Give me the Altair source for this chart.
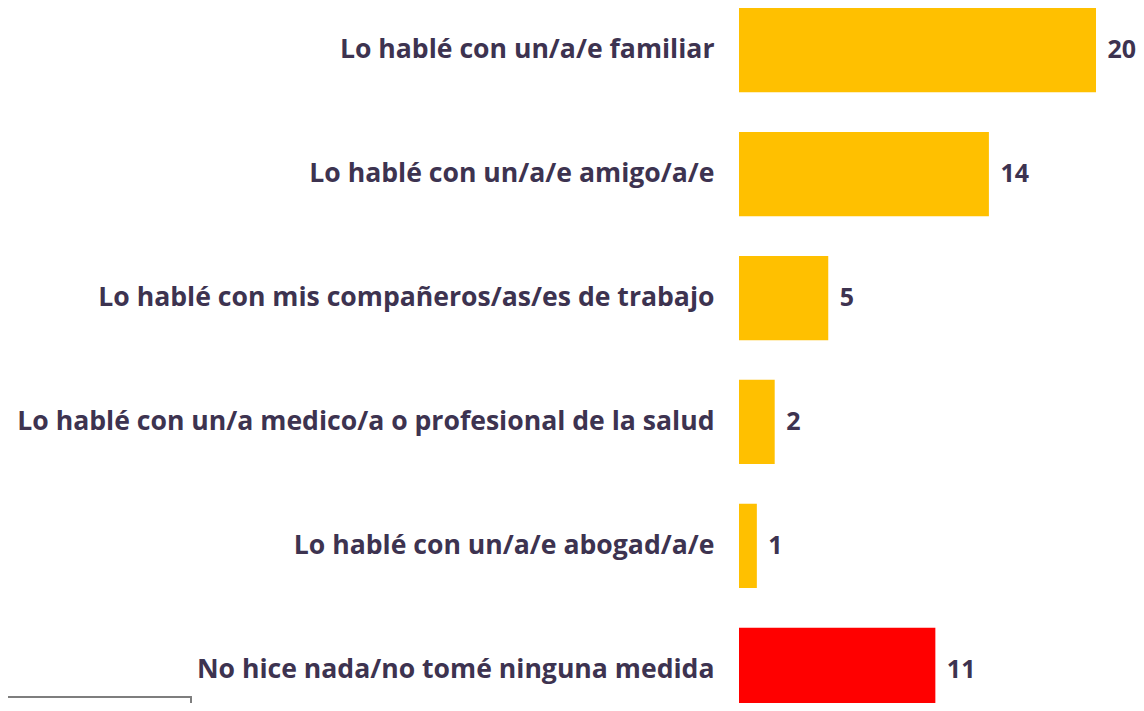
import altair as alt
import pandas as pd

categories = [
    "Lo hablé con un/a/e familiar",
    "Lo hablé con un/a/e amigo/a/e",
    "Lo hablé con mis compañeros/as/es de trabajo",
    "Lo hablé con un/a medico/a o profesional de la salud",
    "Lo hablé con un/a/e abogad/a/e",
    "No hice nada/no tomé ninguna medida",
]
values = [20, 14, 5, 2, 1, 11]
groups = ["acción", "acción", "acción", "acción", "acción", "nada"]

df = pd.DataFrame({"cat": categories, "val": values, "grp": groups})

TEXT = "#3d3350"
FONT = "Open Sans"
FS = 26.6
NFS = 25

y = alt.Y(
    "cat:N",
    sort=categories,
    title=None,
    scale=alt.Scale(paddingInner=0.32, paddingOuter=0, range=[0, 704]),
    axis=alt.Axis(
        domain=False, ticks=False, labelPadding=25, labelFontSize=FS,
        labelFontWeight="bold", labelColor=TEXT, labelFont=FONT, labelLimit=1000,
    ),
)
x = alt.X("val:Q", title=None, scale=alt.Scale(domain=[0, 22.24], nice=False), axis=None)

bars = alt.Chart(df).mark_bar().encode(
    x=x, y=y,
    color=alt.Color("grp:N", scale=alt.Scale(domain=["acción", "nada"], range=["#FFC000", "#FF0000"]), legend=None),
)
labels = alt.Chart(df).mark_text(
    align="left", baseline="middle", dx=11.5, fontSize=NFS, fontWeight="bold", color=TEXT, font=FONT
).encode(x=x, y=y, text="val:Q")

box = alt.Chart(df).mark_rect(fill=None, stroke="#7f7f7f", strokeWidth=1.3).encode(
    x=alt.value(-740), x2=alt.value(-548), y=alt.value(689), y2=alt.value(720)
)

chart = (bars + labels + box).properties(
    width=397, height=695,
    padding={"left": 731, "top": 0, "right": 0, "bottom": 0},
    autosize=alt.AutoSizeParams(type="none"),
).configure_view(stroke=None)

chart.save("out.html", embed_options={"renderer": "svg", "actions": False})
